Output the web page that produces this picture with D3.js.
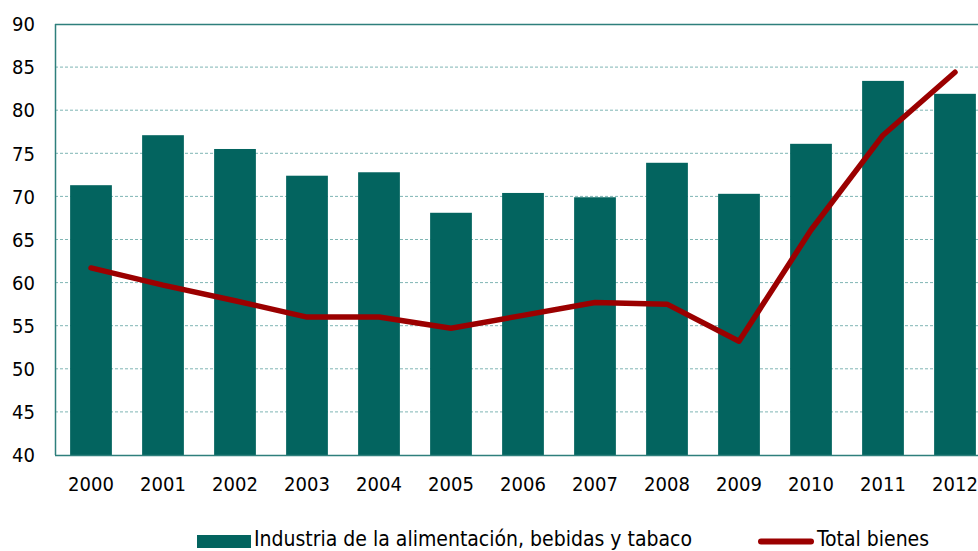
<!DOCTYPE html>
<html>
<head>
<meta charset="utf-8">
<script src="https://cdn.jsdelivr.net/npm/d3@7"></script>
<style>
  html, body { margin: 0; padding: 0; background: #fff; overflow: hidden; }
  svg { display: block; font-family: "DejaVu Sans Condensed", "DejaVu Sans", sans-serif; }
</style>
</head>
<body>
<div id="chart"></div>
<script>
// data
const years = ["2000","2001","2002","2003","2004","2005","2006","2007","2008","2009","2010","2011","2012"];
const industria = [71.3, 77.1, 75.5, 72.4, 72.8, 68.1, 70.4, 69.9, 73.9, 70.3, 76.1, 83.4, 81.9];
const totalBienes = [61.7, 59.7, 57.9, 56.0, 56.0, 54.7, 56.2, 57.7, 57.5, 53.2, 66.1, 77.1, 84.4];
const yTicks = [40, 45, 50, 55, 60, 65, 70, 75, 80, 85, 90];
const seriesNames = ["Industria de la alimentación, bebidas y tabaco", "Total bienes"];

const width = 978, height = 551;
const barColor = "#03645f";
const lineColor = "#9b0000";
const frameColor = "#2e7f7c";

const margin = { top: 24, left: 55 };
const plotBottom = 455;
const step = 72;
const plotRight = margin.left + step * years.length;

const svg = d3.select("#chart").append("svg")
    .attr("width", width)
    .attr("height", height);

const x = d3.scaleBand()
    .domain(years)
    .range([margin.left, plotRight])
    .paddingInner(0.42)
    .paddingOuter(0.21);

const y = d3.scaleLinear()
    .domain([40, 90])
    .range([plotBottom, margin.top]);

// gridlines
svg.append("g")
    .selectAll("line")
    .data(yTicks.filter(t => t > 40 && t < 90))
    .join("line")
    .attr("x1", margin.left).attr("x2", plotRight)
    .attr("y1", d => y(d)).attr("y2", d => y(d))
    .attr("stroke", "#7fb6b4")
    .attr("stroke-width", 1)
    .attr("stroke-dasharray", "3,2");

// bars
svg.append("g")
    .selectAll("rect")
    .data(industria)
    .join("rect")
    .attr("x", (d, i) => x(years[i]))
    .attr("y", d => y(d))
    .attr("width", x.bandwidth())
    .attr("height", d => plotBottom - y(d))
    .attr("fill", barColor);

// frame
svg.append("line")
    .attr("x1", margin.left).attr("x2", plotRight)
    .attr("y1", margin.top + 0.5).attr("y2", margin.top + 0.5)
    .attr("stroke", frameColor).attr("stroke-width", 1.5);
svg.append("line")
    .attr("x1", margin.left + 0.5).attr("x2", margin.left + 0.5)
    .attr("y1", margin.top).attr("y2", plotBottom)
    .attr("stroke", frameColor).attr("stroke-width", 1.5);
svg.append("line")
    .attr("x1", margin.left).attr("x2", plotRight)
    .attr("y1", plotBottom + 0.5).attr("y2", plotBottom + 0.5)
    .attr("stroke", frameColor).attr("stroke-width", 1.5);

// line series
const line = d3.line()
    .x((d, i) => x(years[i]) + x.bandwidth() / 2)
    .y(d => y(d));

svg.append("path")
    .datum(totalBienes)
    .attr("d", line)
    .attr("fill", "none")
    .attr("stroke", lineColor)
    .attr("stroke-width", 5.5)
    .attr("stroke-linejoin", "round")
    .attr("stroke-linecap", "round");

// y axis labels
svg.append("g")
    .selectAll("text")
    .data(yTicks)
    .join("text")
    .attr("x", 35)
    .attr("y", d => y(d))
    .attr("dy", "0.36em")
    .attr("text-anchor", "end")
    .attr("font-size", 20)
    .attr("fill", "#000")
    .text(d => d);

// x axis labels
svg.append("g")
    .selectAll("text")
    .data(years)
    .join("text")
    .attr("x", d => x(d) + x.bandwidth() / 2)
    .attr("y", 491)
    .attr("text-anchor", "middle")
    .attr("font-size", 20)
    .attr("fill", "#000")
    .text(d => d);

// legend
const legend = svg.append("g");
legend.append("rect")
    .attr("x", 197).attr("y", 535)
    .attr("width", 54).attr("height", 13)
    .attr("fill", barColor);
legend.append("text")
    .attr("x", 254).attr("y", 546)
    .attr("font-size", 21)
    .text(seriesNames[0]);
legend.append("line")
    .attr("x1", 761).attr("x2", 811)
    .attr("y1", 541.5).attr("y2", 541.5)
    .attr("stroke", lineColor)
    .attr("stroke-width", 6)
    .attr("stroke-linecap", "round");
legend.append("text")
    .attr("x", 817).attr("y", 546)
    .attr("font-size", 21)
    .text(seriesNames[1]);
</script>
</body>
</html>
